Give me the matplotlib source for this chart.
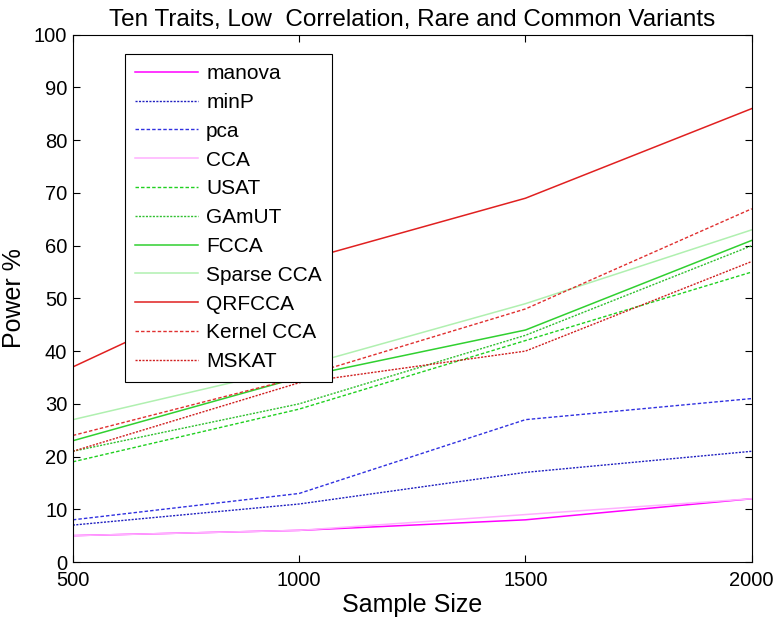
import matplotlib
matplotlib.use("Agg")
import matplotlib.pyplot as plt

plt.rcParams['font.family'] = ['Liberation Sans', 'DejaVu Sans']

sample_sizes = [500, 1000, 1500, 2000]
manova = [5, 6, 8, 12]
minP = [7, 11, 17, 21]
pca = [8, 13, 27, 31]
cca = [5, 6, 9, 12]
usat = [19, 29, 42, 55]
gamut = [21, 30, 43, 60]
fcca = [23, 35, 44, 61]
sparse_cca = [27, 37, 49, 63]
qrfcca = [37, 57, 69, 86]
kernel_cca = [24, 35, 48, 67]
mskat = [21, 34, 40, 57]

series = [
    ("manova", manova, "#ff00ff", "-"),
    ("minP", minP, "#2020c0", (0, (1.5, 1))),
    ("pca", pca, "#3030e0", (0, (2.5, 1.5))),
    ("CCA", cca, "#ffb0ff", "-"),
    ("USAT", usat, "#20d020", (0, (2.5, 1.5))),
    ("GAmUT", gamut, "#30c030", (0, (1.5, 1))),
    ("FCCA", fcca, "#30d030", "-"),
    ("Sparse CCA", sparse_cca, "#b0f0b0", "-"),
    ("QRFCCA", qrfcca, "#e02020", "-"),
    ("Kernel CCA", kernel_cca, "#e03030", (0, (2.5, 1.5))),
    ("MSKAT", mskat, "#d02020", (0, (1.5, 1))),
]

fig = plt.figure(figsize=(7.75, 6.21), dpi=100)
ax = fig.add_axes([0.094, 0.095, 0.876, 0.849])
for name, vals, col, ls in series:
    lw = 1.0 if ls != "-" else 1.1
    ax.plot(sample_sizes, vals, color=col, linestyle=ls, linewidth=lw, label=name)

ax.set_xlim(500, 2000)
ax.set_ylim(0, 100)
ax.set_xticks([500, 1000, 1500, 2000])
ax.set_yticks(range(0, 101, 10))
ax.tick_params(direction='in', top=True, right=True, labelsize=14.5, length=5)
ax.tick_params(axis='x', pad=6.5)
ax.tick_params(axis='y', pad=4)
ax.set_xlabel("Sample Size", fontsize=18, labelpad=2)
ax.set_ylabel("Power %", fontsize=18, labelpad=6)
ax.set_title("Ten Traits, Low  Correlation, Rare and Common Variants", fontsize=17.5, pad=6)

leg = ax.legend(loc='upper left', bbox_to_anchor=(0.0766, 0.964), fontsize=15,
                frameon=True, fancybox=False, edgecolor='black', framealpha=1,
                handlelength=3.0, handletextpad=0.4, labelspacing=0.47,
                borderpad=0.5, borderaxespad=0)
leg.get_frame().set_linewidth(0.8)

fig.savefig("out.png", dpi=100)
